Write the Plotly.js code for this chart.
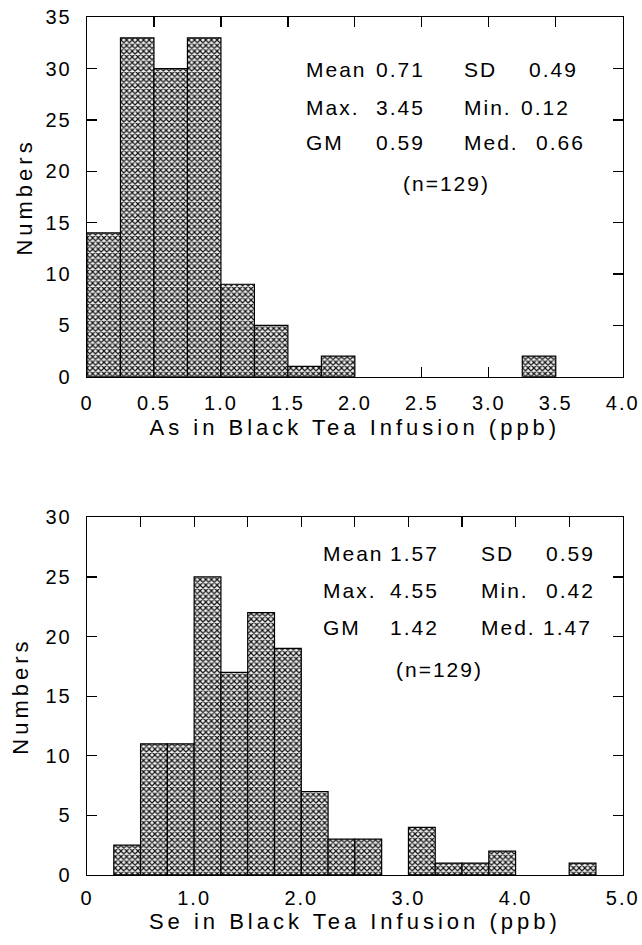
<!DOCTYPE html>
<html><head><meta charset="utf-8">
<script src="https://cdn.plot.ly/plotly-3.0.1.min.js"></script>
<style>
html,body{margin:0;padding:0;background:#fff;}
#chart{width:642px;height:945px;}
.xtick text,.ytick text,.x2tick text,.y2tick text{letter-spacing:2px;}
.xtitle,.x2title,.ytitle,.y2title{letter-spacing:4px;}
.annotation-text{letter-spacing:2px;}
</style></head><body><div id="chart"></div>
<script>
// ---- As histogram (bin width 0.25 ppb) ----
const asBinLeft = [0, 0.25, 0.5, 0.75, 1.0, 1.25, 1.5, 1.75, 3.25];
const asCounts  = [14, 33, 30, 33, 9, 5, 1, 2, 2];
const asTickVals = [0, 0.5, 1.0, 1.5, 2.0, 2.5, 3.0, 3.5, 4.0];
const asTickText = ['0', '0.5', '1.0', '1.5', '2.0', '2.5', '3.0', '3.5', '4.0'];
const asYTickVals = [0, 5, 10, 15, 20, 25, 30, 35];
const asYTickText = ['0', '5', '10', '15', '20', '25', '30', '35'];
const asStatValues1 = ['0.71', '3.45', '0.59'];
const asStatValues2 = ['0.49', '0.12', '0.66'];

// ---- Se histogram (bin width 0.25 ppb) ----
const seBinLeft = [0.25, 0.5, 0.75, 1.0, 1.25, 1.5, 1.75, 2.0, 2.25, 2.5, 3.0, 3.25, 3.5, 3.75, 4.5];
const seCounts  = [2.5, 11, 11, 25, 17, 22, 19, 7, 3, 3, 4, 1, 1, 2, 1];
const seTickVals = [0, 0.5, 1.0, 1.5, 2.0, 2.5, 3.0, 3.5, 4.0, 4.5, 5.0];
const seTickText = ['0', '', '1.0', '', '2.0', '', '3.0', '', '4.0', '', '5.0'];
const seYTickVals = [0, 5, 10, 15, 20, 25, 30];
const seYTickText = ['0', '5', '10', '15', '20', '25', '30'];
const seStatValues1 = ['1.57', '4.55', '1.42'];
const seStatValues2 = ['0.59', '0.42', '1.47'];

const statNames1 = ['Mean', 'Max.', 'GM'];
const statNames2 = ['SD', 'Min.', 'Med.'];
const nText = '(n=129)';
const binWidth = 0.25;

const FONT = 'Liberation Sans, Arial, Helvetica, sans-serif';

function barTrace(x, y, xa, ya) {
  return {
    type: 'bar', x: x, y: y, width: binWidth, offset: 0,
    xaxis: xa, yaxis: ya, hoverinfo: 'skip', showlegend: false,
    marker: {
      color: '#ffffff',
      line: {color: '#000', width: 1.2},
      pattern: {shape: 'x', fgcolor: '#111', bgcolor: '#f0f0f0', size: 4, solidity: 0.5}
    }
  };
}

const data = [
  barTrace(asBinLeft, asCounts, 'x', 'y'),
  barTrace(seBinLeft, seCounts, 'x2', 'y2')
];

function axisBase() {
  return {
    showline: true, linecolor: '#000', linewidth: 1.3, mirror: 'ticks',
    ticks: 'inside', ticklen: 10, tickwidth: 1.2, tickcolor: '#000',
    showgrid: false, zeroline: false, layer: 'below traces',
    tickfont: {family: FONT, size: 20, color: '#000'},
    tickmode: 'array', fixedrange: true
  };
}

const xDomain = [0.1355, 0.9700];
const TITLEFONT = {family: FONT, size: 22, color: '#000'};

const layout = {
  width: 642, height: 945,
  margin: {l: 0, r: 0, t: 0, b: 0},
  paper_bgcolor: '#fff', plot_bgcolor: '#fff',
  font: {family: FONT, color: '#000'},
  xaxis: Object.assign(axisBase(), {
    domain: xDomain, anchor: 'y', range: [0, 4],
    tickvals: asTickVals, ticktext: asTickText, ticklabelstandoff: 8,
    title: {text: 'As in Black Tea Infusion (ppb)', font: TITLEFONT, standoff: 6}
  }),
  yaxis: Object.assign(axisBase(), {
    domain: [0.6014, 0.9817], anchor: 'x', range: [0, 35],
    tickvals: asYTickVals, ticktext: asYTickText, ticklabelstandoff: 10,
    title: {text: 'Numbers', font: TITLEFONT, standoff: 6}
  }),
  xaxis2: Object.assign(axisBase(), {
    domain: xDomain, anchor: 'y2', range: [0, 5],
    tickvals: seTickVals, ticktext: seTickText, ticklabelstandoff: 5,
    title: {text: 'Se in Black Tea Infusion (ppb)', font: TITLEFONT, standoff: 2}
  }),
  yaxis2: Object.assign(axisBase(), {
    domain: [0.0741, 0.4526], anchor: 'x2', range: [0, 30],
    tickvals: seYTickVals, ticktext: seYTickText, ticklabelstandoff: 10,
    title: {text: 'Numbers', font: TITLEFONT, standoff: 10}
  }),
  annotations: []
};

// annotation placement (data coordinates of each panel)
const asCol = [1.627, 2.149, 2.806];
const asCol4 = [3.291, 3.231, 3.343];
const asRowY = [29.94, 26.25, 22.8];
const asN = [2.687, 18.86];
const seCol = [2.192, 2.82, 3.666];
const seCol4 = [4.272, 4.272, 4.244];
const seRowY = [26.95, 23.89, 20.75];
const seN = [3.293, 17.23];

function ann(text, x, y, xa, ya, anchor) {
  return {text: text, x: x, y: y, xref: xa, yref: ya, xanchor: anchor || 'left', yanchor: 'middle',
          showarrow: false, font: {family: FONT, size: 21, color: '#000'}, borderpad: 0};
}
for (let i = 0; i < 3; i++) {
  layout.annotations.push(ann(statNames1[i], asCol[0], asRowY[i], 'x', 'y'));
  layout.annotations.push(ann(asStatValues1[i], asCol[1], asRowY[i], 'x', 'y'));
  layout.annotations.push(ann(statNames2[i], asCol[2], asRowY[i], 'x', 'y'));
  layout.annotations.push(ann(asStatValues2[i], asCol4[i], asRowY[i], 'x', 'y'));
  layout.annotations.push(ann(statNames1[i], seCol[0], seRowY[i], 'x2', 'y2'));
  layout.annotations.push(ann(seStatValues1[i], seCol[1], seRowY[i], 'x2', 'y2'));
  layout.annotations.push(ann(statNames2[i], seCol[2], seRowY[i], 'x2', 'y2'));
  layout.annotations.push(ann(seStatValues2[i], seCol4[i], seRowY[i], 'x2', 'y2'));
}
layout.annotations.push(ann(nText, asN[0], asN[1], 'x', 'y', 'center'));
layout.annotations.push(ann(nText, seN[0], seN[1], 'x2', 'y2', 'center'));

Plotly.newPlot('chart', data, layout, {staticPlot: true, displayModeBar: false});
</script>
</body></html>
